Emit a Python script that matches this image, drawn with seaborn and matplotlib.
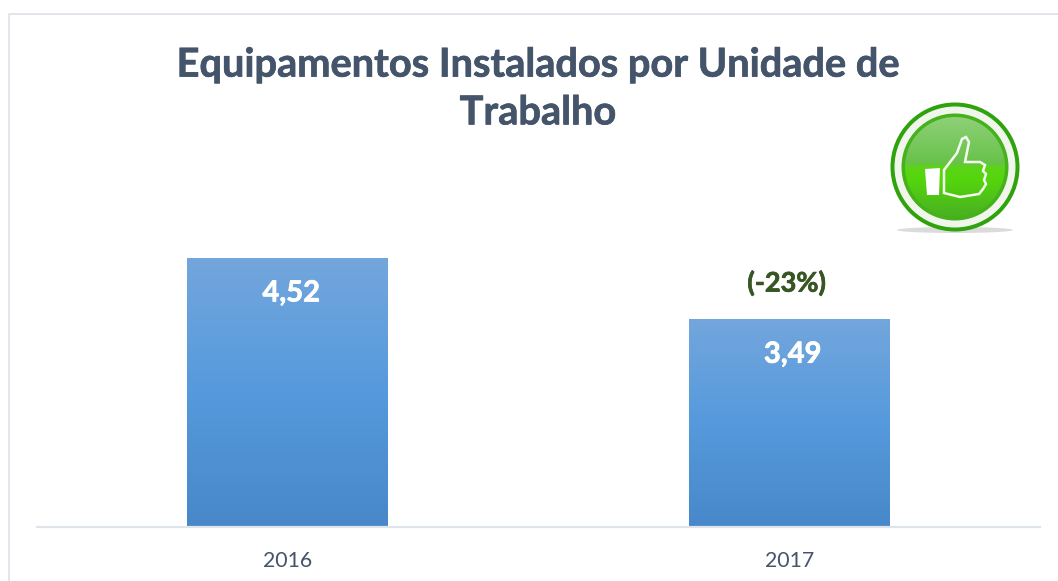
import matplotlib
matplotlib.use("Agg")
import matplotlib.patheffects as pe
import matplotlib.pyplot as plt
import numpy as np
import seaborn as sns
from matplotlib.colors import LinearSegmentedColormap
from matplotlib.patches import Circle, Ellipse, Polygon

years = ["2016", "2017"]
values = [4.52, 3.49]
value_labels = ["4,52", "3,49"]
change_label = "(-23%)"
title = "Equipamentos Instalados por Unidade de\nTrabalho"

sns.set_theme(style="white")
plt.rcParams["font.family"] = ["Lato", "DejaVu Sans"]

W, H = 1058, 581
DARK = "#44546A"
LINE = "#DFE4EA"


def heavier(color, lw=0.5):
    return [pe.withStroke(linewidth=lw, foreground=color)]


fig = plt.figure(figsize=(W / 100, H / 100), dpi=100, facecolor="white")

# chart area, pixel box from the reference
px_per_unit = 59.5
base_y, top_y = 527, 527 - 5 * px_per_unit
ax = fig.add_axes([37 / W, (H - base_y) / H, (1040 - 37) / W, (base_y - top_y) / H])
sns.barplot(x=years, y=values, width=0.4, color="#5B9BD5", saturation=1, ax=ax)
ax.set_xlabel("")
ax.set_ylabel("")
ax.set_yticks([])
ax.patch.set_alpha(0)
sns.despine(ax=ax, left=True)
ax.spines["bottom"].set_color(LINE)
ax.spines["bottom"].set_linewidth(1.6)
ax.tick_params(axis="x", length=0, pad=17, labelsize=15.3, labelcolor=DARK)

# vertical gradient inside each bar
blues = LinearSegmentedColormap.from_list("bar", ["#73A6DD", "#559ADC", "#4888CA"])
grad = np.linspace(0, 1, 256).reshape(-1, 1)
for bar in ax.patches:
    x0, w, h = bar.get_x(), bar.get_width(), bar.get_height()
    ax.imshow(grad, cmap=blues, aspect="auto", extent=(x0, x0 + w, 0, h), zorder=2)
    bar.set_visible(False)
ax.set_xlim(-0.5, 1.5)
ax.set_ylim(0, 5)

for i, (v, lab) in enumerate(zip(values, value_labels)):
    ax.annotate(lab, (i, v), xytext=(2.5, -25.5), textcoords="offset points", ha="center",
                va="center", color="white", fontsize=21, fontweight="bold", zorder=3,
                path_effects=heavier("white"))
ax.annotate(change_label, (1, values[1]), xytext=(-2, 26), textcoords="offset points", ha="center",
            va="center", color="#375623", fontsize=19.5, fontweight="bold",
            path_effects=heavier("#375623"))

# overlay in pixels for frame, title and icon
ov = fig.add_axes([0, 0, 1, 1], zorder=5)
ov.axis("off")
ov.plot([8.5, 8.5, W], [H, 13.5, 13.5], color=LINE, lw=1.3)
ov.text(538, 89, title, ha="center", va="center", color=DARK, fontsize=28.6,
        fontweight="bold", linespacing=1.36, path_effects=heavier(DARK))

cx, cy = 955, 167
ov.add_patch(Ellipse((cx, 230), 116, 6, facecolor="#D2D2D2", edgecolor="none", alpha=0.8))
ov.add_patch(Circle((cx, cy), 64.5, facecolor="#2FA30C", edgecolor="none"))
ov.add_patch(Circle((cx, cy), 60.5, facecolor="#F0F6EC", edgecolor="none"))
ov.add_patch(Circle((cx, cy), 53.5, facecolor="#45B21C", edgecolor="none"))
greens = LinearSegmentedColormap.from_list(
    "disc", [(0, "#8ED078"), (0.46, "#68C24A"), (0.5, "#5CD418"), (0.62, "#55D60C"), (1, "#49B022")])
disc = ov.imshow(np.linspace(0, 1, 200).reshape(-1, 1), cmap=greens, aspect="auto",
                 extent=(cx - 50, cx + 50, cy + 50, cy - 50), zorder=2)
disc.set_clip_path(Circle((cx, cy), 50, transform=ov.transData))
ov.set_xlim(0, W)
ov.set_ylim(H, 0)
ov.add_patch(Polygon([(925, 169), (940, 168), (939, 195), (927, 195)], facecolor="white",
                     edgecolor="none", zorder=3))
thumb = [(944, 170), (957, 153), (962, 139), (966, 137), (969, 142), (965, 162), (980, 162),
         (985, 165), (983, 171), (986, 174), (984, 180), (986, 184), (983, 189), (979, 194),
         (960, 197), (944, 193)]
ov.add_patch(Polygon(thumb, closed=True, facecolor="none", edgecolor="#F4FBEF", lw=1.8, zorder=3))

fig.savefig("out.png", dpi=100)
